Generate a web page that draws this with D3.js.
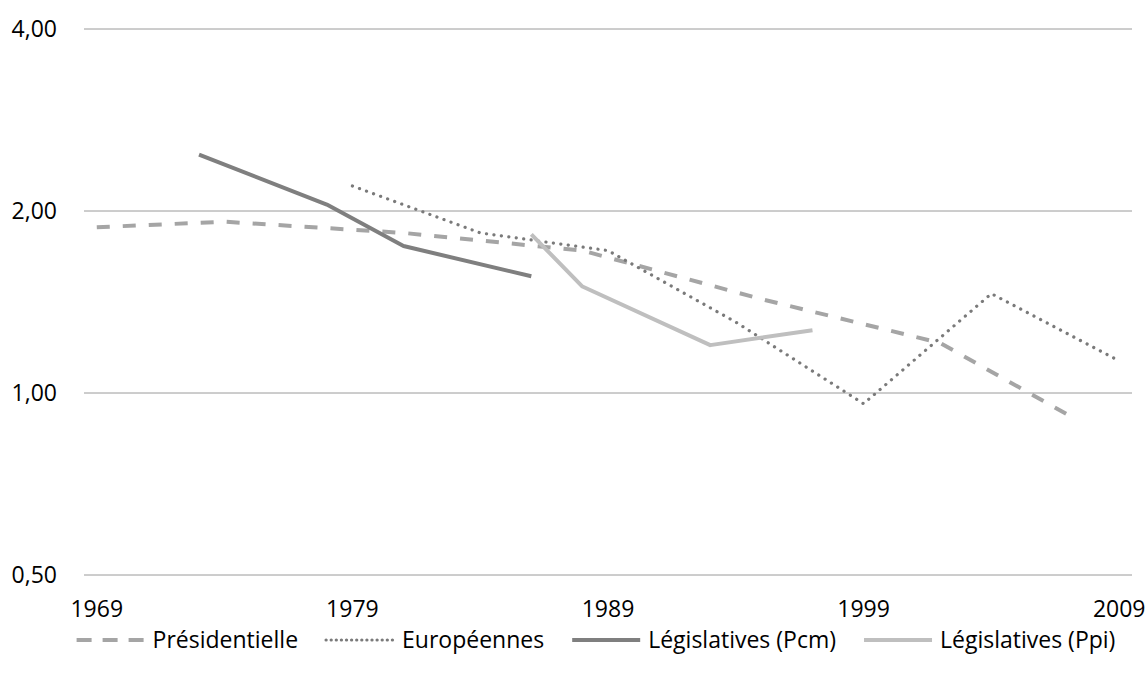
<!DOCTYPE html>
<html>
<head>
<meta charset="utf-8">
<style>
  body { margin: 0; background: #fff; }
  svg text { font-family: "Open Sans", sans-serif; font-size: 23px; fill: #000; }
</style>
</head>
<body>
<svg width="1146" height="680"></svg>
<script src="https://d3js.org/d3.v7.min.js"></script>
<script>

// values (log scale, base 2)
var presYears = [1969, 1974, 1981, 1988, 1995, 2002, 2007];
var presVals  = [1.88, 1.92, 1.84, 1.72, 1.43, 1.21, 0.92];

var euroYears = [1979, 1984, 1989, 1994, 1999, 2004, 2009];
var euroVals  = [2.20, 1.84, 1.72, 1.31, 0.96, 1.46, 1.13];

var pcmYears = [1973, 1978, 1981, 1986];
var pcmVals  = [2.48, 2.05, 1.75, 1.56];

var ppiYears = [1986, 1988, 1993, 1997];
var ppiVals  = [1.83, 1.50, 1.20, 1.27];

var yTicks = [0.5, 1, 2, 4];
var xTicks = [1969, 1979, 1989, 1999, 2009];

var series = [
  {name: "Présidentielle", years: presYears, vals: presVals, color: "#a5a5a5", dash: "13,13", cap: "butt", w: 4},
  {name: "Européennes", years: euroYears, vals: euroVals, color: "#7a7a7a", dash: "0.1,7.4", cap: "round", w: 3.2},
  {name: "Législatives (Pcm)", years: pcmYears, vals: pcmVals, color: "#7f7f7f", dash: null, cap: "butt", w: 4},
  {name: "Législatives (Ppi)", years: ppiYears, vals: ppiVals, color: "#bfbfbf", dash: null, cap: "butt", w: 4}
];

var svg = d3.select("svg");

var x = d3.scaleLinear()
    .domain([1968.5, 2009.5])
    .range([84, 1132]);

var y = d3.scaleLog()
    .base(2)
    .domain([0.5, 4])
    .range([575, 29]);

var fmt = function(d) { return d3.format(".2f")(d).replace(".", ","); };

// gridlines
svg.append("g")
  .selectAll("line")
  .data(yTicks)
  .enter().append("line")
    .attr("x1", x.range()[0])
    .attr("x2", x.range()[1])
    .attr("y1", function(d) { return y(d); })
    .attr("y2", function(d) { return y(d); })
    .attr("stroke", "#9a9a9a")
    .attr("stroke-width", 1);

// y labels
svg.append("g")
  .selectAll("text")
  .data(yTicks)
  .enter().append("text")
    .attr("x", 57)
    .attr("y", function(d) { return y(d); })
    .attr("dy", "0.35em")
    .attr("text-anchor", "end")
    .text(fmt);

// x labels
svg.append("g")
  .selectAll("text")
  .data(xTicks)
  .enter().append("text")
    .attr("x", function(d) { return x(d); })
    .attr("y", 609)
    .attr("dy", "0.35em")
    .attr("text-anchor", "middle")
    .text(function(d) { return d; });

var line = d3.line()
    .x(function(d) { return x(d[0]); })
    .y(function(d) { return y(d[1]); });

series.forEach(function(s) {
  svg.append("path")
    .datum(d3.zip(s.years, s.vals))
    .attr("fill", "none")
    .attr("stroke", s.color)
    .attr("stroke-width", s.w)
    .attr("stroke-linecap", s.cap)
    .attr("stroke-linejoin", "round")
    .attr("stroke-dasharray", s.dash)
    .attr("d", line);
});

// legend
var legend = svg.append("g").attr("transform", "translate(0,640)");
var cursor = 0;
series.forEach(function(s, i) {
  var g = legend.append("g");
  g.append("line")
    .attr("x1", 0).attr("x2", 68)
    .attr("y1", 0).attr("y2", 0)
    .attr("stroke", s.color)
    .attr("stroke-width", s.w)
    .attr("stroke-linecap", s.cap)
    .attr("stroke-dasharray", s.dash ? (i === 0 ? "15,11" : "0.1,5") : null);
  var t = g.append("text")
    .attr("x", 76)
    .attr("dy", "0.35em")
    .text(s.name);
  var w = 76 + t.node().getComputedTextLength();
  g.attr("transform", "translate(" + cursor + ",0)");
  cursor += w + 28;
});
cursor -= 28;
legend.attr("transform", "translate(" + (596 - cursor / 2) + ",640)");

</script>
</body>
</html>
